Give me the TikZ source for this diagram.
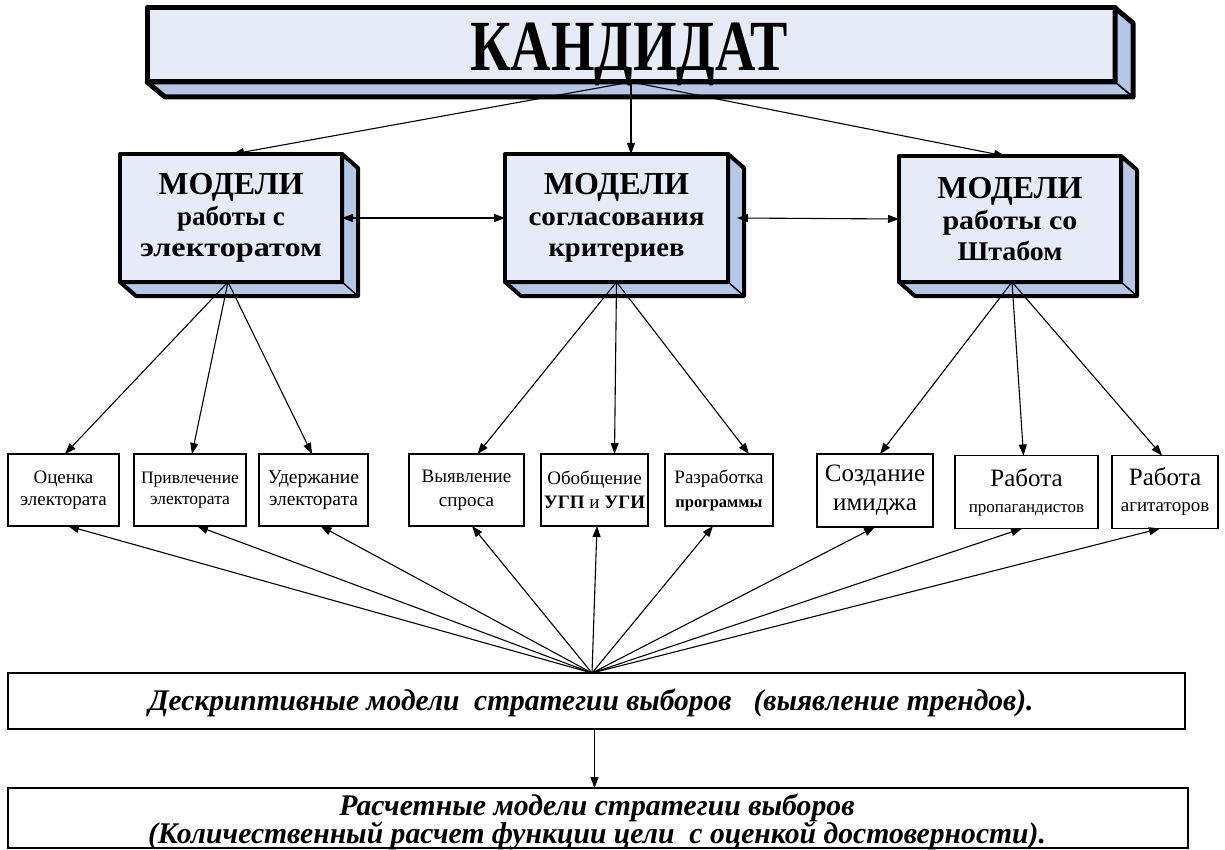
\documentclass[tikz,border=0pt]{standalone}
\usepackage{fontspec}
\setmainfont{Liberation Serif}
\usetikzlibrary{arrows.meta}
\definecolor{frontcol}{RGB}{230,236,247}
\definecolor{sidecol}{RGB}{180,199,231}
\newcommand\fitw[2]{\resizebox{#1}{\height}{#2}}
\newcommand\extrude[4]{%
  \filldraw[fill=sidecol, line width=#4, line join=round]
    (#1.north east) -- ++(#2,#3) -- ([shift={(#2,#3)}]#1.south east)
    -- ([shift={(#2,#3)}]#1.south west) -- (#1.south west) -- (#1.south east) -- cycle;
  \draw[line width=#4*0.35] (#1.south east) -- ++(#2,#3);
}
\begin{document}
\begin{tikzpicture}[x=1pt,y=-1pt,
  front/.style={draw, fill=frontcol, line width=#1, outer sep=0pt, inner sep=0pt, line join=round},
  mbox/.style={front=4pt, minimum width=222pt, minimum height=128pt, align=center,
     font=\fontsize{27}{31}\selectfont\bfseries},
  sbox/.style={draw, line width=1.8pt, minimum height=72pt, inner sep=0pt, outer sep=0pt, align=center},
  wbox/.style={draw, line width=1.8pt, inner sep=0pt, outer sep=0pt, align=center},
  btxt/.style={anchor=base, inner sep=0pt, font=\fontsize{30}{30}\selectfont\bfseries\itshape},
  arr/.style={-{Triangle[length=11pt,width=8pt]}, line width=1.1pt},
  darr/.style={{Triangle[length=11pt,width=8pt]}-{Triangle[length=11pt,width=8pt]}, line width=1.1pt}
]
\useasboundingbox (0,0) rectangle (1225,850);
\fill[white] (0,0) rectangle (1225,850);

% top box
\node[front=5pt, minimum width=968pt, minimum height=74pt] (cand) at (631,45) {};
\extrude{cand}{18}{15}{5pt}
\node[anchor=base, inner sep=0pt] (candt) at (629,71)
  {\fitw{318pt}{\fontsize{72}{72}\selectfont\bfseries КАНДИДАТ}};

% model boxes
\node[mbox] (m1) at (231,218) {{\fontsize{32}{31}\selectfont МОДЕЛИ}\\ работы с\\ \fitw{182pt}{электоратом}};
\node[mbox, minimum width=223pt] (m2) at (616.5,218) {{\fontsize{32}{31}\selectfont МОДЕЛИ}\\ \fitw{176pt}{согласования}\\ \fitw{136pt}{критериев}};
\node[mbox, minimum height=126pt] (m3) at (1010,219) {{\fontsize{32}{31}\selectfont МОДЕЛИ}\\ \fitw{135pt}{работы со}\\ \fitw{105pt}{Штабом}};
\extrude{m1}{16}{14}{4pt}
\extrude{m2}{16}{14}{4pt}
\extrude{m3}{16}{14}{4pt}

% small boxes
\node[sbox, minimum width=111pt, font=\fontsize{19}{22}\selectfont] (b1) at (63.5,490) {Оценка\\электората};
\node[sbox, minimum width=112pt, font=\fontsize{17.5}{21}\selectfont] (b2) at (190,490) {Привлечение\\электората};
\node[sbox, minimum width=109pt, font=\fontsize{19.5}{22}\selectfont] (b3) at (313.5,490) {Удержание\\электората};
\node[sbox, minimum width=115pt, font=\fontsize{19}{24}\selectfont] (b4) at (466.5,490) {Выявление\\спроса};
\node[sbox, minimum width=107pt, font=\fontsize{19}{24}\selectfont] (b5) at (594.5,490) {Обобщение\\\textbf{УГП} и \textbf{УГИ}};
\node[sbox, minimum width=108pt, font=\fontsize{19}{24}\selectfont] (b6) at (719,490) {Разработка\\{\fontsize{16.5}{24}\selectfont\bfseries программы}};
\node[sbox, minimum width=116pt, minimum height=73pt, font=\fontsize{25}{29}\selectfont] (b7) at (875,490.5) {Создание\\имиджа};
\node[sbox, minimum width=143pt, minimum height=73pt, font=\fontsize{25}{26}\selectfont] (b8) at (1026.5,492) {Работа\\{\fontsize{17}{26}\selectfont пропагандистов}};
\node[sbox, minimum width=106pt, minimum height=73pt, font=\fontsize{25}{26}\selectfont] (b9) at (1165,492) {Работа\\{\fontsize{19}{26}\selectfont агитаторов}};

% bottom boxes
\node[wbox, minimum width=1177pt, minimum height=56pt] (desc) at (596.5,701) {};
\node[btxt] (desct) at (591,710)
  {\fitw{885pt}{Дескриптивные модели\ \ стратегии выборов\ \ \ (выявление трендов).}};
\node[wbox, minimum width=1180pt, minimum height=60pt] (calc) at (598,818) {};
\node[btxt] (calc1) at (597,815) {\fitw{515pt}{Расчетные модели стратегии выборов}};
\node[btxt] (calc2) at (597,843) {\fitw{898pt}{(Количественный расчет функции цели\ \ с оценкой достоверности).}};

% arrows from candidate
\draw[arr] (cand.south) -- ([xshift=2pt]m1.north);
\draw[arr] (cand.south) -- (cand.south |- m2.north);
\draw[arr] (cand.south) -- ([xshift=-5pt]m3.north);

% horizontal double arrows
\draw[darr] (m1.east) -- (m2.west);
\draw[darr] ([xshift=9pt]m2.east) -- (m3.west);

% fans from models
\draw[arr] ([xshift=-3pt]m1.south) -- ([xshift=1.5pt]b1.north);
\draw[arr] ([xshift=-3pt]m1.south) -- ([xshift=2pt]b2.north);
\draw[arr] ([xshift=-3pt]m1.south) -- ([xshift=-1.5pt]b3.north);
\draw[arr] (m2.south) -- ([xshift=11pt]b4.north);
\draw[arr] (m2.south) -- ([xshift=20pt]b5.north);
\draw[arr] (m2.south) -- ([xshift=30pt]b6.north);
\draw[arr] ([xshift=2pt]m3.south) -- ([xshift=5pt]b7.north);
\draw[arr] ([xshift=2pt]m3.south) -- ([xshift=-3pt]b8.north);
\draw[arr] ([xshift=2pt]m3.south) -- ([xshift=-3pt]b9.north);

% fan from descriptive models
\coordinate (hub) at ([xshift=-4.5pt]desc.north);
\draw[arr] (hub) -- ([xshift=4.5pt]b1.south);
\draw[arr] (hub) -- ([xshift=7pt]b2.south);
\draw[arr] (hub) -- ([xshift=7pt]b3.south);
\draw[arr] (hub) -- ([xshift=5.5pt]b4.south);
\draw[arr] (hub) -- ([xshift=2.5pt]b5.south);
\draw[arr] (hub) -- ([xshift=-6pt]b6.south);
\draw[arr] (hub) -- (b7.south);
\draw[arr] (hub) -- ([xshift=-4.5pt]b8.south);
\draw[arr] (hub) -- ([xshift=-5pt]b9.south);

% descriptive -> calculated
\draw[arr] ([xshift=-2pt]desc.south) -- ([xshift=-2pt]desc.south |- calc.north);
\end{tikzpicture}
\end{document}
